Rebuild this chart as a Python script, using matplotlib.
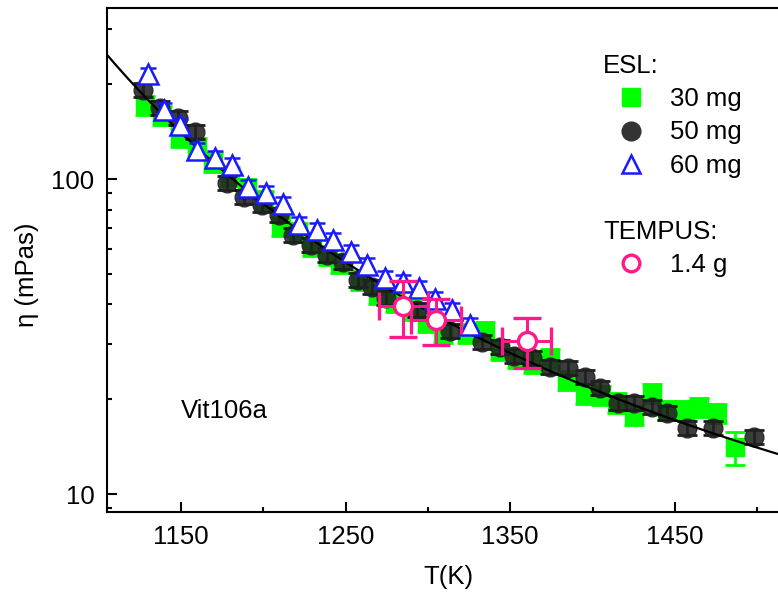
import numpy as np
import matplotlib
matplotlib.use("Agg")
import matplotlib.pyplot as plt
from matplotlib.lines import Line2D
from matplotlib.ticker import FixedLocator, NullFormatter, FixedFormatter

plt.rcParams['font.family'] = ['Liberation Sans', 'DejaVu Sans']

# ESL, 30 mg sample
T_30 = [1128, 1138.5, 1149.5, 1159.5, 1169.5, 1180, 1190, 1200.5, 1210.5, 1221,
        1229.5, 1239.5, 1246.5, 1258.5, 1269.5, 1280, 1290.5, 1299.5, 1309, 1324,
        1334.5, 1343.5, 1354, 1364, 1374, 1384.5, 1395.5, 1405, 1415, 1425.5,
        1436, 1445.5, 1456, 1465, 1475.5, 1486.5]
eta_30 = [171.8, 159.7, 135.9, 126.3, 113.2, 102.2, 93.6, 85.8, 70.9, 67.9,
          61.3, 57.4, 54.1, 47.8, 43.1, 40.7, 38.4, 35.2, 32.4, 32.4,
          32.9, 28.6, 27.0, 26.1, 27.0, 23.0, 20.8, 20.6, 19.5, 17.8,
          20.9, 18.5, 18.5, 18.9, 18.1, 14.1]
err_30 = [0.07] * 35 + [0.12]

# ESL, 50 mg sample
T_50 = [1127, 1137, 1148, 1158.5, 1178, 1188.5, 1199, 1209.5, 1218, 1229,
        1238.5, 1248.5, 1257.5, 1266, 1274.5, 1293.5, 1313.5, 1333, 1343.5, 1352,
        1363, 1374, 1385, 1395.5, 1404.5, 1415.5, 1425.5, 1436, 1445.5, 1457.5,
        1473, 1498]
eta_50 = [191.7, 168.1, 156.2, 141.0, 97.1, 87.7, 82.7, 76.9, 66.4, 61.7,
          57.4, 54.5, 47.8, 45.4, 41.9, 38.4, 32.9, 30.4, 29.3, 27.4,
          27.0, 25.3, 25.1, 23.5, 21.7, 19.5, 19.5, 18.9, 18.1, 16.2,
          16.2, 15.2]
err_50 = [0.05] * 32

# ESL, 60 mg sample
T_60 = [1130, 1139.5, 1149.5, 1159.5, 1170.5, 1181, 1190.5, 1201.5, 1212, 1221.5,
        1232.5, 1242.5, 1253, 1263, 1274, 1285, 1294.5, 1304.5, 1314.5, 1325.5]
eta_60 = [215, 165.5, 148, 123.5, 116.6, 110.8, 94.3, 90.3, 83.4, 72,
          68.9, 64, 58.6, 53.3, 48.5, 47.1, 45.1, 41.6, 38.4, 34.4]
err_60 = [0.05] * 20

# TEMPUS, 1.4 g sample
T_tempus = [1285, 1305, 1360]
eta_tempus = [39.5, 35.7, 30.6]
Terr_tempus = [15, 15, 15]
eta_err_tempus = [8, 6, 5.5]

# VFT fit: log10(eta) = A + B / (T - T0)
A_vft, B_vft, T0_vft = -0.194, 1100.0, 680.0

green = '#00ff00'
dark = '#222222'
blue = '#1a1aff'
pink = '#ff1a8c'

fig = plt.figure(figsize=(7.78, 5.97), dpi=100)
ax = fig.add_axes([107 / 778, 1 - 512 / 597, 683 / 778, 504 / 597])

T_30 = np.array(T_30); eta_30 = np.array(eta_30)
ax.errorbar(T_30, eta_30, yerr=eta_30 * np.array(err_30), fmt='s', ms=13,
            color=green, mec=green, ecolor=green, elinewidth=2, capsize=7,
            capthick=2, zorder=2)

T_50 = np.array(T_50); eta_50 = np.array(eta_50)
ax.errorbar(T_50, eta_50, yerr=eta_50 * np.array(err_50), fmt='o', ms=13.5,
            color=dark, mec=dark, alpha=0.88, ecolor='black', elinewidth=2,
            capsize=7, capthick=2, zorder=3)

T_fit = np.linspace(1105, 1520, 300)
ax.plot(T_fit, 10 ** (A_vft + B_vft / (T_fit - T0_vft)), color='black',
        lw=1.6, zorder=4)

T_60 = np.array(T_60); eta_60 = np.array(eta_60)
ax.errorbar(T_60, eta_60, yerr=eta_60 * np.array(err_60), fmt='^', ms=14,
            mfc='white', mec=blue, mew=1.8, ecolor=blue, elinewidth=1.6,
            capsize=6, capthick=1.6, zorder=5)

ax.errorbar(T_tempus, eta_tempus, xerr=Terr_tempus, yerr=eta_err_tempus,
            fmt='o', ms=13, mfc='white', mec=pink, mew=2.4, ecolor=pink,
            elinewidth=2.2, capsize=10, capthick=2.2, zorder=6)

ax.set_yscale('log')
ax.set_xlim(1105, 1520)
ax.set_ylim(8.77, 349)

ax.xaxis.set_major_locator(FixedLocator([1150, 1250, 1350, 1450]))
ax.xaxis.set_minor_locator(FixedLocator([1200, 1300, 1400, 1500]))
ax.yaxis.set_major_locator(FixedLocator([10, 100]))
ax.yaxis.set_major_formatter(FixedFormatter(['10', '100']))
ax.yaxis.set_minor_locator(FixedLocator([9, 20, 30, 40, 50, 60, 70, 80, 90,
                                         200, 300]))
ax.yaxis.set_minor_formatter(NullFormatter())

ax.tick_params(which='both', direction='in', width=1.5, labelsize=18.5,
               top=False, right=False)
ax.tick_params(which='major', length=7, pad=9)
ax.tick_params(which='minor', length=3.5)
for s in ax.spines.values():
    s.set_linewidth(1.5)

ax.set_xlabel('T(K)', fontsize=18.5, labelpad=12)
ax.set_ylabel('η (mPas)', fontsize=18.5)
ax.yaxis.set_label_coords(-0.10, 0.47)

ax.text(1150, 18.3, 'Vit106a', fontsize=18.5, va='center', ha='left')

h_esl = [Line2D([], [], ls='none', marker='s', ms=13, color=green),
         Line2D([], [], ls='none', marker='o', ms=13.5, color='#333333'),
         Line2D([], [], ls='none', marker='^', ms=13, mfc='white', mec=blue,
                mew=1.8)]
leg1 = ax.legend(h_esl, ['30 mg', '50 mg', '60 mg'], title='ESL:',
                 alignment='left', loc='upper left', frameon=False,
                 bbox_to_anchor=(603 / 778, 1 - 54 / 597),
                 bbox_transform=fig.transFigure, fontsize=18.5,
                 title_fontsize=18.5, handlelength=2.2, handletextpad=0.4,
                 borderpad=0, borderaxespad=0, labelspacing=0.36)
ax.add_artist(leg1)

h_tempus = [Line2D([], [], ls='none', marker='o', ms=12, mfc='white',
                   mec=pink, mew=2.4)]
ax.legend(h_tempus, ['1.4 g'], title='TEMPUS:', alignment='left',
          loc='upper left', frameon=False,
          bbox_to_anchor=(603 / 778, 1 - 220 / 597),
          bbox_transform=fig.transFigure, fontsize=18.5, title_fontsize=18.5,
          handlelength=2.2, handletextpad=0.4, borderpad=0, borderaxespad=0,
          labelspacing=0.36)

fig.savefig('out.png', dpi=100)
